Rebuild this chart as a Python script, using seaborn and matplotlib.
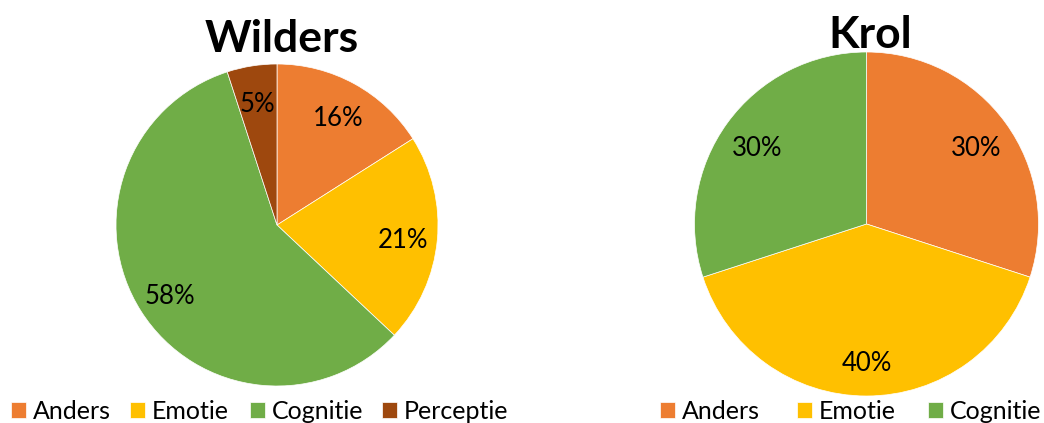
import matplotlib
matplotlib.use('Agg')
import matplotlib.pyplot as plt
import seaborn as sns

# ---- data ----
wilders_categories = ['Anders', 'Emotie', 'Cognitie', 'Perceptie']
wilders_values = [16, 21, 58, 5]
krol_categories = ['Anders', 'Emotie', 'Cognitie']
krol_values = [30, 40, 30]
titles = ['Wilders', 'Krol']

palette = dict(zip(['Anders', 'Emotie', 'Cognitie', 'Perceptie'],
                   sns.color_palette(['#ED7D31', '#FFC000', '#70AD47', '#9E480E'])))

# legend entry layout (pixel x of each swatch)
wilders_legend_x = [11, 130, 250, 382]
krol_legend_x = [660, 797, 928]

sns.set_theme(style='white')
plt.rcParams['font.family'] = ['Lato', 'DejaVu Sans']
plt.rcParams['text.color'] = 'black'

W, H = 1044, 423
fig = plt.figure(figsize=(W / 100, H / 100), dpi=100)


def px_axes(cx, cy, r):
    return fig.add_axes([(cx - r) / W, (H - cy - r) / H, 2 * r / W, 2 * r / H])


def draw(ax, cats, vals, r_px):
    wedges, _, autotexts = ax.pie(vals, colors=[palette[c] for c in cats], startangle=90,
                                  counterclock=False, autopct=lambda p: f'{p:.0f}%',
                                  pctdistance=0.785, radius=1,
                                  wedgeprops=dict(linewidth=0.5, edgecolor='white'),
                                  textprops=dict(fontsize=18.5, color='black'))
    for t in autotexts:
        x, y = t.get_position()
        t.set_position((x, y - 4 / r_px))
    ax.set_xlim(-1, 1)
    ax.set_ylim(-1, 1)
    ax.set_aspect('auto')
    ax.axis('off')
    return wedges


ax1 = px_axes(277, 225, 161)
w1 = draw(ax1, wilders_categories, wilders_values, 161)
ax2 = px_axes(866.5, 224, 172)
w2 = draw(ax2, krol_categories, krol_values, 172)

fig.text(282 / W, 1 - 52 / H, titles[0], ha='center', va='baseline', fontsize=32, fontweight='bold')
fig.text(870 / W, 1 - 48 / H, titles[1], ha='center', va='baseline', fontsize=32, fontweight='bold')

leg_kw = dict(loc='lower left', frameon=False, fontsize=18, handlelength=0.58,
              handleheight=0.62, handletextpad=0.3,
              borderpad=0, borderaxespad=0, labelcolor='black')
for wedges, cats, xs in [(w1, wilders_categories, wilders_legend_x),
                         (w2, krol_categories, krol_legend_x)]:
    for wdg, cat, x in zip(wedges, cats, xs):
        fig.legend([wdg], [cat], bbox_to_anchor=(x / W, 0), **leg_kw)

fig.savefig('out.png', dpi=100)
